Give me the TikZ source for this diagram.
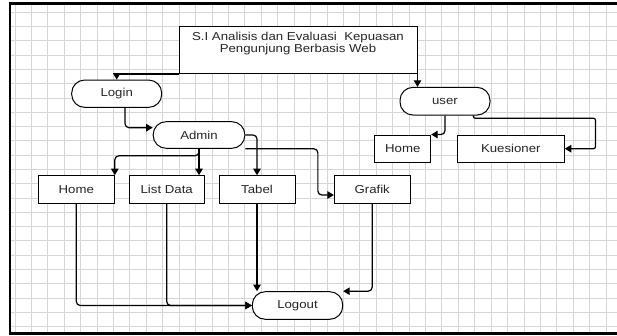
\documentclass[tikz,border=0pt]{standalone}
\usepackage{fontspec}
\setmainfont{Liberation Sans}[FakeStretch=1.15]
\usetikzlibrary{arrows.meta}
\begin{document}
\begin{tikzpicture}[x=1pt,y=-1pt,
  box/.style={draw=black,line width=1pt,fill=white,inner sep=0pt,font=\fontsize{11.5}{12}\selectfont,text=black!85},
  rbox/.style={box,rounded corners=13pt},
  conn/.style={draw=black,line width=1.2pt,rounded corners=4pt,-{Triangle[length=6.5pt,width=7.5pt]}},
  gridline/.style={draw=black!16,line width=0.9pt}]
\useasboundingbox (0,0) rectangle (617,336);
\fill[white] (0,0) rectangle (617,336);
\begin{scope}
\clip (0,0) rectangle (617,336);
\foreach \i in {0,...,36} \draw[gridline] ({15+16.42*\i},3.7) -- ({15+16.42*\i},333.7);
\foreach \j in {0,...,22} \draw[gridline] (10,{12.3+14.29*\j}) -- (617,{12.3+14.29*\j});
\draw[line width=2.6pt] (10,3.7) rectangle (625,333.7);
\end{scope}

\node[box,minimum width=238pt,minimum height=47pt,anchor=north] (title) at (298,26) {};
\node[font=\fontsize{11.5}{9.5}\selectfont,text=black!85,align=center,inner sep=0pt] (titletext) at (298,43.5) {S.I Analisis dan Evaluasi\ \ Kepuasan\\Pengunjung Berbasis Web};
\node[rbox,minimum width=90pt,minimum height=27.3pt] (login) at (116.7,93.7) {Login};
\node[rbox,minimum width=90pt,minimum height=27.7pt] (user) at (445,101.2) {user};
\node[rbox,minimum width=91.7pt,minimum height=26.6pt] (admin) at (199,135) {Admin};
\node[box,minimum width=55.7pt,minimum height=27.3pt] (home2) at (402.8,148.7) {Home};
\node[box,minimum width=107pt,minimum height=27.3pt] (kues) at (510.8,148.7) {Kuesioner};
\node[box,minimum width=76pt,minimum height=27.6pt] (home1) at (76.3,189.5) {Home};
\node[box,minimum width=75.3pt,minimum height=27.6pt] (listdata) at (166.7,189.5) {List Data};
\node[box,minimum width=76pt,minimum height=27.6pt] (tabel) at (257,189.5) {Tabel};
\node[box,minimum width=75.7pt,minimum height=27.6pt] (grafik) at (372.2,189.5) {Grafik};
\node[rbox,minimum width=90.4pt,minimum height=27.6pt] (logout) at (297.5,305.5) {Logout};

\draw[conn,rounded corners=0pt] (title.south west) -| (login.north);
\draw[conn] (title.south east) -- (title.south east |- user.north);
\draw[conn] ([xshift=8.3pt]login.south) |- ([yshift=7.3pt]admin.west);
\draw[conn] (admin.east) -| (tabel.north);
\draw[conn] (admin.south east) -| ([xshift=-16pt,yshift=-5.5pt]grafik.west) -- ([yshift=-5.5pt]grafik.west);
\draw[conn] (admin.south) -- ++(0,7) -| (home1.north east);
\draw[conn] (admin.south) -- (admin.south |- listdata.north);
\draw[conn] (tabel.south) -- (tabel.south |- logout.north);
\draw[conn] (home1.south) |- (logout.west);
\draw[conn] (listdata.south) |- (logout.west);
\draw[conn] (grafik.south) |- (logout.north east);
\draw[conn] (user.south) |- (home2.north east);
\draw[conn,rounded corners=2pt] ([xshift=28.3pt]user.south) -- ++(0,2.7) -| ([xshift=30.7pt]kues.east) -- (kues.east);
\end{tikzpicture}
\end{document}
